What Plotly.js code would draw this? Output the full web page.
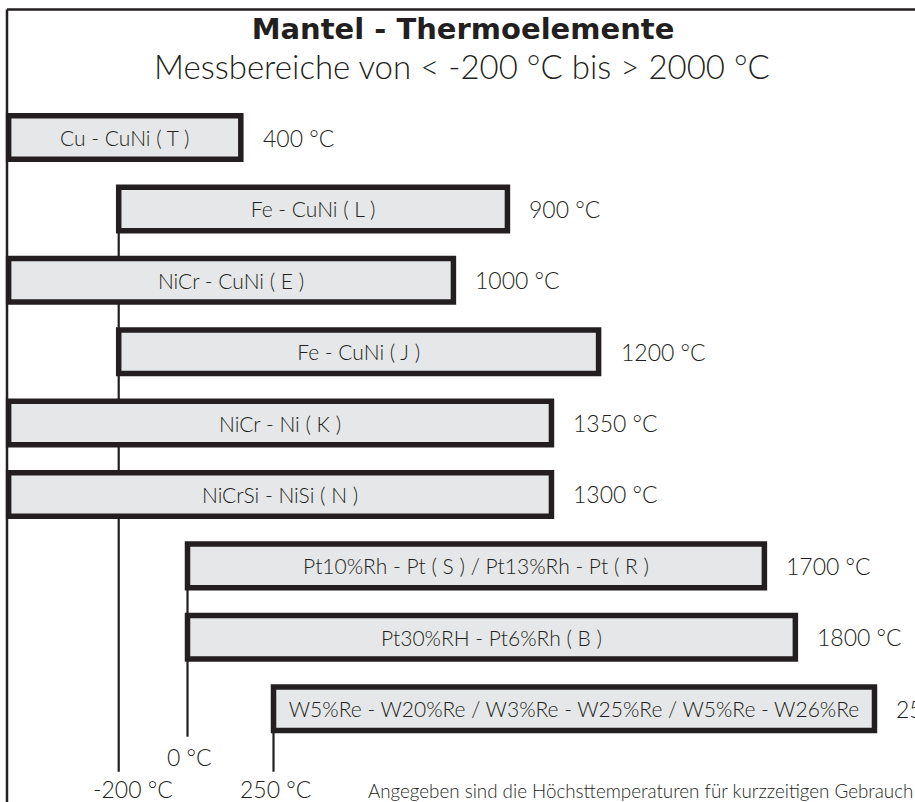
<!DOCTYPE html>
<html>
<head>
<meta charset="utf-8">
<script src="https://cdn.plot.ly/plotly-3.0.1.min.js"></script>
<style>
  html, body { margin: 0; padding: 0; background: #ffffff; overflow: hidden; }
  #chart { width: 915px; height: 802px; }
</style>
</head>
<body>
<div id="chart"></div>
<script>
// ---- data ----
const categories = [
  "Cu - CuNi ( T )",
  "Fe - CuNi ( L )",
  "NiCr - CuNi ( E )",
  "Fe - CuNi ( J )",
  "NiCr - Ni ( K )",
  "NiCrSi - NiSi ( N )",
  "Pt10%Rh - Pt ( S ) / Pt13%Rh - Pt ( R )",
  "Pt30%RH - Pt6%Rh ( B )",
  "W5%Re - W20%Re / W3%Re - W25%Re / W5%Re - W26%Re"
];
// bar extents as drawn on the (schematic) temperature scale, °C
const barStart = [-520, -200, -520, -200, -520, -520, 0, 0, 250];
const barEnd   = [155, 930, 773, 1195, 1058, 1058, 1677, 1767, 1997];
// stated maximum temperatures, °C
const maxTemp  = [400, 900, 1000, 1200, 1350, 1300, 1700, 1800, 2500];
// lower-limit markers
const lowerTicks = [-200, 0, 250];
const lowerTickText = ["-200 °C", "0 °C", "250 °C"];
const titleText = "Mantel - Thermoelemente";
const subtitleText = "Messbereiche von < -200 °C bis > 2000 °C";
const footnoteText = "Angegeben sind die Höchsttemperaturen für kurzzeitigen Gebrauch";

// ---- styling ----
const INK = "#231f20";
const FILL = "#e6e7e8";
const FONT = "Lato, 'Open Sans', sans-serif";
const LIGHT = 300;
const W = 915, H = 802;
const py = p => 1 - p / H;   // pixel row -> paper y
const px = p => p / W;       // pixel column -> paper x

const barTrace = {
  type: "bar",
  orientation: "h",
  y: categories,
  base: barStart,
  x: barEnd.map((e, i) => e - barStart[i]),
  width: 0.61,
  marker: { color: FILL, line: { color: INK, width: 5.5 } },
  text: categories,
  textposition: "inside",
  insidetextanchor: "middle",
  constraintext: "none",
  textfont: { family: FONT, size: 21, color: INK, weight: LIGHT },
  hoverinfo: "skip",
  showlegend: false
};

// vertical lower-limit lines: start at first bar that begins at that value
const lineBottomPx = [772, 737, 772];
const shapes = [];
lowerTicks.forEach((t, k) => {
  const firstIdx = barStart.indexOf(t);
  shapes.push({
    type: "line", layer: "below", xref: "x", yref: "y",
    x0: t, x1: t, y0: firstIdx, y1: (lineBottomPx[k] - 137.8) / 71.4,
    line: { color: INK, width: 2.2 }
  });
});
// outer frame (left and top edges)
shapes.push({ type: "line", xref: "paper", yref: "paper", x0: px(7), x1: px(7), y0: py(9.5), y1: -0.05, line: { color: INK, width: 2.5 } });
shapes.push({ type: "line", xref: "paper", yref: "paper", x0: px(7), x1: 1.05, y0: py(9.5), y1: py(9.5), line: { color: INK, width: 2.5 } });

const annotations = [];
// max temperature labels
maxTemp.forEach((v, i) => {
  annotations.push({
    xref: "x", yref: "y", x: barEnd[i], y: categories[i],
    xanchor: "left", yanchor: "middle", xshift: 20,
    text: v + " °C", showarrow: false,
    font: { family: FONT, size: 23, color: INK, weight: LIGHT }
  });
});
// lower limit labels
const tickShift = [14, 1.5, 1.5];
const tickRow = [789, 757, 789];
lowerTicks.forEach((t, k) => {
  annotations.push({
    xref: "x", yref: "paper", x: t, y: py(tickRow[k]),
    xanchor: "center", yanchor: "middle", xshift: tickShift[k],
    text: lowerTickText[k], showarrow: false,
    font: { family: FONT, size: 23, color: INK, weight: LIGHT }
  });
});
// subtitle
annotations.push({
  xref: "paper", yref: "paper", x: px(462), y: py(66),
  xanchor: "center", yanchor: "middle", text: subtitleText, showarrow: false,
  font: { family: FONT, size: 33, color: INK, weight: LIGHT }
});
// footnote
annotations.push({
  xref: "paper", yref: "paper", x: px(366), y: py(790),
  xanchor: "left", yanchor: "middle", text: footnoteText, showarrow: false,
  font: { family: FONT, size: 18.8, color: INK, weight: LIGHT }
});

const layout = {
  width: W, height: H,
  margin: { l: 0, r: 0, t: 0, b: 0, pad: 0 },
  paper_bgcolor: "#ffffff", plot_bgcolor: "#ffffff",
  title: {
    text: "<b>" + titleText + "</b>",
    x: px(463), xanchor: "center", xref: "container",
    y: py(29), yanchor: "middle", yref: "container",
    font: { family: "'DejaVu Sans', sans-serif", size: 29, color: INK }
  },
  xaxis: { range: [-545.1, 2114.8], visible: false, fixedrange: true },
  yaxis: { type: "category", range: [9.307, -1.926], visible: false, fixedrange: true },
  bargap: 0,
  shapes: shapes,
  annotations: annotations,
  showlegend: false
};

Plotly.newPlot("chart", [barTrace], layout, { staticPlot: true, displayModeBar: false });
</script>
</body>
</html>
